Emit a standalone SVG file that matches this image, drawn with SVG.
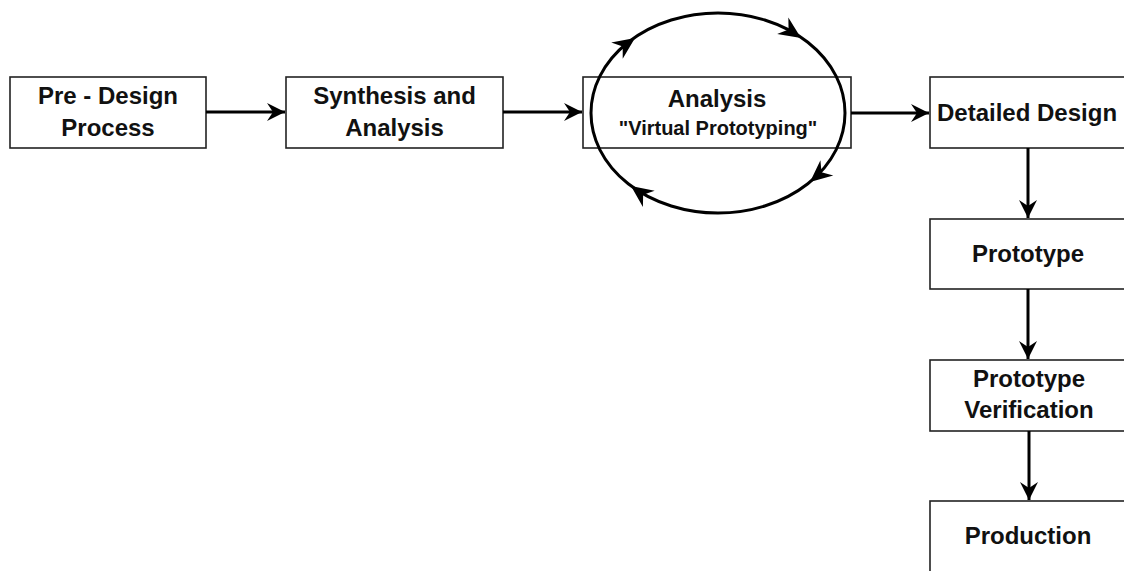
<svg xmlns="http://www.w3.org/2000/svg" width="1124" height="571" viewBox="0 0 1124 571">
<style>
.box{fill:#fff;stroke:#222;stroke-width:1.6}
.t{font-family:"Liberation Sans",Arial,sans-serif;font-weight:bold;font-size:24px;fill:#111;text-anchor:middle}
.s{font-size:20px}
.c{fill:none;stroke:#000;stroke-width:3}
</style>
<defs>
<path id="ah" d="M0,0 L-22,-10 L-15,0 L-22,10 Z" fill="#000"/>
<marker id="arr" markerUnits="userSpaceOnUse" viewBox="-20 -10 21 20" refX="0" refY="0" markerWidth="21" markerHeight="20" orient="auto">
<path d="M0,0 L-18,-9 L-12,0 L-18,9 Z" fill="#000"/>
</marker>
</defs>
<rect width="1124" height="571" fill="#fff"/>
<g id="n1"><rect class="box" x="10" y="77" width="196" height="71"/>
<text class="t" x="108" y="104">Pre - Design</text><text class="t" x="108" y="136">Process</text></g>
<g id="n2"><rect class="box" x="286" y="77" width="217" height="71"/>
<text class="t" x="394.5" y="104">Synthesis and</text><text class="t" x="394.5" y="136">Analysis</text></g>
<g id="n3"><rect class="box" x="583" y="77" width="268" height="71"/>
<text class="t" x="717" y="107">Analysis</text><text class="t s" x="718" y="135">"Virtual Prototyping"</text></g>
<g id="n4"><rect class="box" x="930" y="77" width="200" height="71"/>
<text class="t" x="937" y="121" style="text-anchor:start">Detailed Design</text></g>
<g id="n5"><rect class="box" x="930" y="219" width="200" height="70"/>
<text class="t" x="1028" y="262">Prototype</text></g>
<g id="n6"><rect class="box" x="930" y="360" width="200" height="71"/>
<text class="t" x="1029" y="387">Prototype</text><text class="t" x="1029" y="418">Verification</text></g>
<g id="n7"><rect class="box" x="930" y="501" width="200" height="80"/>
<text class="t" x="1028" y="544">Production</text></g>
<g id="loop">
<ellipse class="c" cx="718" cy="113" rx="127" ry="100" stroke-width="3.5"/>
<use href="#ah" transform="translate(635,38) rotate(-35)"/>
<use href="#ah" transform="translate(801,38) rotate(34)"/>
<use href="#ah" transform="translate(810,182) rotate(140)"/>
<use href="#ah" transform="translate(631,186) rotate(216)"/>
</g>
<g id="connectors" class="c" marker-end="url(#arr)">
<line x1="206" y1="112" x2="285" y2="112"/>
<line x1="503" y1="112" x2="582" y2="112"/>
<line x1="851" y1="113" x2="929" y2="113"/>
<line x1="1028" y1="148" x2="1028" y2="218"/>
<line x1="1028" y1="289" x2="1028" y2="359"/>
<line x1="1029" y1="431" x2="1029" y2="500"/>
</g>
</svg>
